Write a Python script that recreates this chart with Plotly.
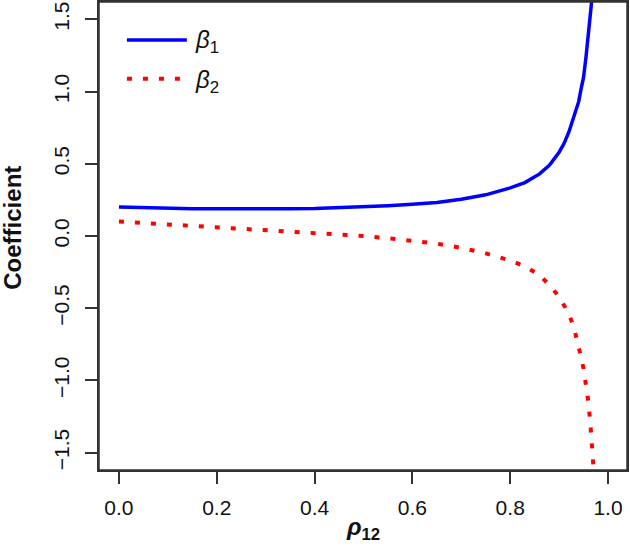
import plotly.graph_objects as go

# values
rho = [0, 0.05, 0.1, 0.15, 0.2, 0.25, 0.3, 0.35, 0.4, 0.45, 0.5, 0.55, 0.6, 0.65,
       0.7, 0.75, 0.8, 0.83, 0.86, 0.88, 0.9, 0.91, 0.92, 0.93, 0.94, 0.945,
       0.95, 0.955, 0.96, 0.965, 0.97]
beta1 = [0.200, 0.195, 0.192, 0.189, 0.188, 0.187, 0.187, 0.188, 0.190, 0.195,
         0.200, 0.209, 0.219, 0.232, 0.255, 0.285, 0.333, 0.37, 0.43, 0.49,
         0.58, 0.64, 0.72, 0.82, 0.93, 1.02, 1.10, 1.24, 1.40, 1.55, 1.74]
beta2 = [0.100, 0.090, 0.081, 0.071, 0.062, 0.053, 0.044, 0.034, 0.024, 0.012,
         0.0, -0.015, -0.031, -0.053, -0.082, -0.12, -0.17, -0.21, -0.27, -0.34,
         -0.42, -0.48, -0.54, -0.63, -0.76, -0.84, -0.92, -1.03, -1.15, -1.35, -1.59]

x_ticks = [0.0, 0.2, 0.4, 0.6, 0.8, 1.0]
y_ticks = [-1.5, -1.0, -0.5, 0.0, 0.5, 1.0, 1.5]

FONT = "Liberation Sans, Arial, sans-serif"
AXIS_COL = "#333333"
DOTS = "5px,11px"

fig = go.Figure()
fig.add_trace(go.Scatter(x=rho, y=beta1, mode="lines", name="beta1",
                         line=dict(color="#0000ff", width=3.5)))
fig.add_trace(go.Scatter(x=rho, y=beta2, mode="lines", name="beta2",
                         line=dict(color="#ff0000", width=4, dash=DOTS)))

axis_style = dict(showline=True, mirror=True, linecolor=AXIS_COL, linewidth=1.5,
                  ticks="outside", ticklen=12, tickwidth=1.5, tickcolor=AXIS_COL,
                  showgrid=False, zeroline=False, automargin=False,
                  tickfont=dict(family=FONT, size=21, color="#111111"))

fig.update_xaxes(range=[-0.0408, 1.0388], tickvals=x_ticks,
                 ticktext=[f"{v:.1f}" for v in x_ticks],
                 ticklabelstandoff=6, **axis_style)
fig.update_yaxes(range=[-1.62, 1.62], tickvals=y_ticks,
                 ticktext=[f"{v:.1f}".replace("-", "\u2212") for v in y_ticks],
                 tickangle=-90, ticklabelstandoff=8, **axis_style)

# plot box (R's box())
fig.add_shape(type="rect", xref="paper", yref="paper", x0=0, x1=1, y0=0, y1=1,
              line=dict(color=AXIS_COL, width=1.5), layer="above")

# hand-drawn legend like R's legend()
fig.add_shape(type="line", xref="paper", yref="paper", x0=0.0529, x1=0.1664,
              y0=0.919, y1=0.919, line=dict(color="#0000ff", width=3.5))
fig.add_shape(type="line", xref="paper", yref="paper", x0=0.0529, x1=0.1664,
              y0=0.836, y1=0.836, line=dict(color="#ff0000", width=4, dash=DOTS))
for ypos, label in [(0.915, "<i>β</i><sub>1</sub>"), (0.831, "<i>β</i><sub>2</sub>")]:
    fig.add_annotation(xref="paper", yref="paper", x=0.178, y=ypos, text=label,
                       showarrow=False, xanchor="left", yanchor="middle",
                       font=dict(family=FONT, size=24, color="#111111"))

# axis titles
fig.add_annotation(xref="paper", yref="paper", x=-0.1645, y=0.518,
                   text="<b>Coefficient</b>", textangle=-90, showarrow=False,
                   xanchor="center", yanchor="middle",
                   font=dict(family=FONT, size=24, color="#111111"))
fig.add_annotation(xref="paper", yref="paper", x=0.5, y=-0.125,
                   text="<b><i>ρ</i></b><sub><b>12</b></sub>", showarrow=False,
                   xanchor="center", yanchor="middle",
                   font=dict(family=FONT, size=24, color="#111111"))

fig.update_layout(width=630, height=549, showlegend=False,
                  margin=dict(l=99, r=3, t=2, b=79),
                  plot_bgcolor="white", paper_bgcolor="white")

fig.write_html("out.html", config={"displayModeBar": False},
               post_script="var b=document.body;b.style.margin='0';b.style.padding='0';"
                           "b.style.overflow='hidden';"
                           "document.documentElement.style.overflow='hidden';"
                           "window.scrollTo(0,0);")
